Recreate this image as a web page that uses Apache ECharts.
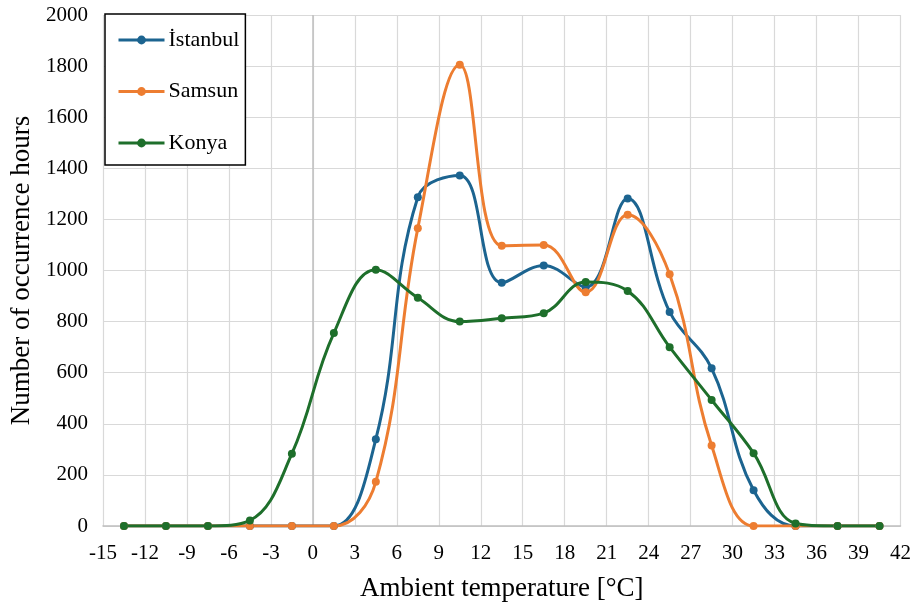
<!DOCTYPE html>
<html>
<head>
<meta charset="utf-8">
<script src="https://cdn.jsdelivr.net/npm/echarts@6/dist/echarts.min.js"></script>
<style>
  html, body { margin: 0; padding: 0; background: #fff; }
  #chart { width: 914px; height: 607px; }
</style>
</head>
<body>
<div id="chart"></div>
<script>
// Temperature bin centres (°C)
const temps = [-13.5, -10.5, -7.5, -4.5, -1.5, 1.5, 4.5, 7.5, 10.5, 13.5, 16.5, 19.5, 22.5, 25.5, 28.5, 31.5, 34.5, 37.5, 40.5];

// Occurrence hours per bin
const istanbul = [0, 0, 0, 0, 0, 0, 340, 1287, 1372, 952, 1020, 935, 1282, 838, 617, 140, 0, 0, 0];
const samsun   = [0, 0, 0, 0, 0, 0, 173, 1165, 1805, 1097, 1100, 915, 1218, 985, 315, 0, 0, 0, 0];
const konya    = [0, 0, 0, 22, 283, 755, 1003, 893, 800, 813, 833, 955, 920, 700, 493, 285, 10, 0, 0];

const seriesNames = ['İstanbul', 'Samsun', 'Konya'];
const seriesColors = ['#1c6490', '#ED7D31', '#1E6F2B'];

const font = '"Liberation Serif", "Times New Roman", serif';

function pairs(vals) {
  return temps.map((t, i) => [t, vals[i]]);
}

function lineSeries(name, vals, color) {
  return {
    name: name,
    type: 'line',
    data: pairs(vals),
    smooth: 0.4,
    symbol: 'circle',
    symbolSize: 8,
    lineStyle: { width: 3, color: color },
    itemStyle: { color: color },
    z: 3
  };
}

const chart = echarts.init(document.getElementById('chart'), null, { renderer: 'canvas' });

const series = [
  lineSeries(seriesNames[0], istanbul, seriesColors[0]),
  lineSeries(seriesNames[1], samsun, seriesColors[1]),
  lineSeries(seriesNames[2], konya, seriesColors[2])
];
// vertical axis line crossing at 0 °C
series[0].markLine = {
  silent: true,
  symbol: 'none',
  label: { show: false },
  lineStyle: { color: '#bfbfbf', width: 1.5, type: 'solid' },
  data: [{ xAxis: 0 }],
  z: 1
};

chart.setOption({
  animation: false,
  backgroundColor: '#ffffff',
  grid: { left: 103, right: 13, top: 15, bottom: 80 },
  legend: {
    orient: 'vertical',
    left: 105,
    top: 14,
    padding: [15, 6, 11, 12],
    itemGap: 29.5,
    itemWidth: 46,
    itemHeight: 11,
    borderColor: '#000',
    borderWidth: 1.5,
    borderRadius: 0,
    backgroundColor: '#fff',
    lineStyle: { width: 3 },
    textStyle: { fontFamily: font, fontSize: 22, color: '#000', padding: [0, 0, 0, -1] },
    data: seriesNames
  },
  xAxis: {
    type: 'value',
    min: -15,
    max: 42,
    interval: 3,
    name: 'Ambient temperature [°C]',
    nameLocation: 'middle',
    nameGap: 49,
    nameTextStyle: { fontFamily: font, fontSize: 27, color: '#000' },
    axisLine: { onZero: false, lineStyle: { color: '#bfbfbf', width: 1.5 } },
    axisTick: { show: false },
    axisLabel: { fontFamily: font, fontSize: 21, color: '#000', margin: 17 },
    splitLine: { show: true, lineStyle: { color: '#d9d9d9', width: 1.2 } }
  },
  yAxis: {
    type: 'value',
    min: 0,
    max: 2000,
    interval: 200,
    name: 'Number of occurrence hours',
    nameLocation: 'middle',
    nameGap: 68,
    nameTextStyle: { fontFamily: font, fontSize: 27, color: '#000' },
    axisLine: { show: false },
    axisTick: { show: false },
    axisLabel: { fontFamily: font, fontSize: 21, color: '#000', margin: 15, formatter: v => String(v) },
    splitLine: { show: true, lineStyle: { color: '#d9d9d9', width: 1.2 } }
  },
  series: series
});
</script>
</body>
</html>
